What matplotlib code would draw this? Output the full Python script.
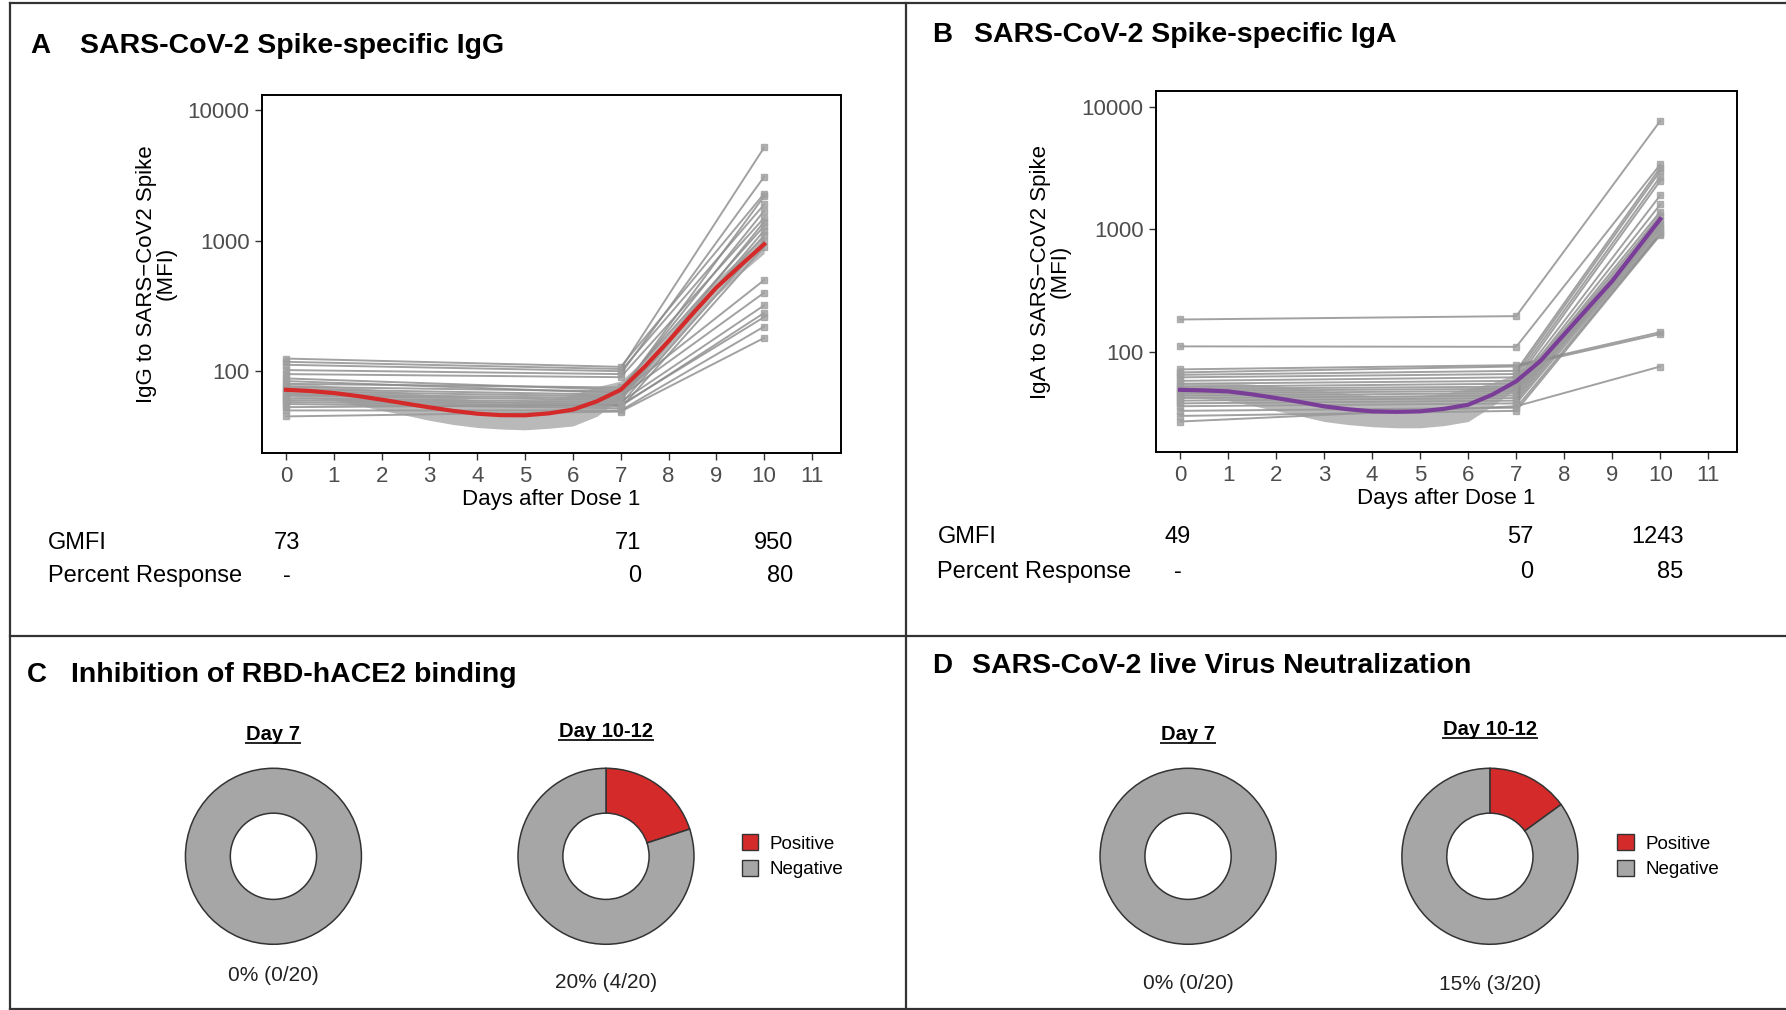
import matplotlib
matplotlib.use("Agg")
import matplotlib.pyplot as plt
from matplotlib.lines import Line2D
from matplotlib.patches import Patch
from matplotlib.ticker import NullLocator

plt.rcParams['font.family'] = ['Liberation Sans', 'DejaVu Sans']

# --- données ---
days = [0, 7, 10]

igg_d0 = [125, 118, 112, 102, 95, 88, 84, 80, 76, 73, 70, 67, 65, 62, 60, 58, 56, 53, 50, 45]
igg_d7 = [108, 104, 100, 95, 90, 72, 68, 75, 70, 66, 64, 62, 60, 58, 56, 54, 52, 55, 50, 49]
igg_d10 = [2300, 5200, 1900, 3100, 1500, 1700, 500, 1300, 2200, 1100, 400, 1400, 1200, 320, 1000, 280, 900, 260, 220, 180]

iga_d0 = [184, 111, 72, 68, 65, 62, 58, 55, 52, 50, 48, 46, 44, 42, 40, 38, 36, 33, 30, 27]
iga_d7 = [196, 110, 78, 76, 70, 66, 62, 58, 55, 52, 50, 48, 46, 44, 42, 40, 38, 35, 33, 36]
iga_d10 = [7700, 3400, 145, 140, 3200, 3000, 2700, 2500, 1900, 1600, 1400, 1300, 1200, 1100, 1050, 1000, 950, 920, 900, 76]

smooth_days = [0, 0.5, 1, 1.5, 2, 2.5, 3, 3.5, 4, 4.5, 5, 5.5, 6, 6.5, 7, 7.5, 8, 8.5, 9, 9.5, 10]
igg_smooth = [72, 70.5, 68, 64.5, 60.5, 56.5, 52.8, 49.6, 47.2, 46, 45.9, 47.5, 50.7, 58.7, 72,
              108, 170, 275, 438, 645, 942]
igg_lo = [64, 62, 60, 55, 50, 46, 42, 39, 37, 36, 35.5, 36.5, 38, 45, 62,
          92, 148, 240, 380, 560, 800]
igg_hi = [82, 80, 77, 75, 72, 69, 66, 63, 60, 59, 59, 61, 66, 76, 84,
          124, 195, 315, 505, 745, 1110]
iga_smooth = [49, 48.5, 47.6, 45, 42, 39, 35.9, 34, 32.7, 32.4, 32.7, 34.3, 37, 44.7, 57.5,
              84, 139, 230, 379, 680, 1216]
iga_lo = [43, 41.5, 40, 36.5, 33, 30, 27, 25.5, 24.5, 24, 24, 25, 27, 36, 50,
          73, 120, 200, 330, 590, 1050]
iga_hi = [56, 56, 56, 54.5, 53, 50.5, 48, 46, 44, 44, 44, 46, 50, 56, 66,
          97, 160, 265, 435, 785, 1410]

gmfi_igg = ['73', '71', '950']
resp_igg = ['-', '0', '80']
gmfi_iga = ['49', '57', '1243']
resp_iga = ['-', '0', '85']

n_total = 20
ace2_pos = [0, 4]     # Day 7, Day 10-12
neut_pos = [0, 3]
pie_titles = ['Day 7', 'Day 10-12']

RED = '#d42a2a'
PURPLE = '#7a3e98'
GREY = '#a6a6a6'

fig = plt.figure(figsize=(17.86, 10.10), dpi=100)

# --- cadres des panneaux ---
for xs, ys in [([0.0056, 0.0056], [0, 0.997]), ([0.5073, 0.5073], [0, 0.997]),
               ([0.0056, 1.0], [0.997, 0.997]), ([0.0056, 1.0], [0.3703, 0.3703]),
               ([0.0056, 1.0], [0.001, 0.001])]:
    fig.add_artist(Line2D(xs, ys, color='#333333', lw=1.6))

# --- titres des panneaux ---
titles = [('A', 0.0172, 0.0446, 0.9549, 'SARS-CoV-2 Spike-specific IgG'),
          ('B', 0.5217, 0.5453, 0.9650, 'SARS-CoV-2 Spike-specific IgA'),
          ('C', 0.0153, 0.0395, 0.3315, 'Inhibition of RBD-hACE2 binding'),
          ('D', 0.5217, 0.5440, 0.3405, 'SARS-CoV-2 live Virus Neutralization')]
for letter, xl, xt, y, txt in titles:
    fig.text(xl, y, letter, fontsize=20, fontweight='bold', va='center')
    fig.text(xt, y, txt, fontsize=20.5, fontweight='bold', va='center')


def spaghetti(rect, d0, d7, d10, smooth, lo, hi, color, ylabel, ylim):
    ax = fig.add_axes(rect)
    for a, b, c in zip(d0, d7, d10):
        ax.plot(days, [a, b, c], color='#8a8a8a', lw=1.4, alpha=0.8,
                marker='s', ms=4, mec='#a0a0a0', mfc='#a0a0a0', zorder=2)
    ax.fill_between(smooth_days, lo, hi, color='#9c9c9c', alpha=0.7, lw=0, zorder=3)
    ax.plot(smooth_days, smooth, color=color, lw=3, zorder=4)
    ax.set_yscale('log')
    ax.set_ylim(*ylim)
    ax.set_xlim(-0.5, 11.6)
    ax.set_xticks(range(12))
    ax.set_yticks([100, 1000, 10000])
    ax.set_yticklabels(['100', '1000', '10000'])
    ax.yaxis.set_minor_locator(NullLocator())
    ax.tick_params(labelsize=16, labelcolor='#4d4d4d', length=5, width=1, color='#333333', pad=4)
    for s in ax.spines.values():
        s.set_linewidth(1.4)
    ax.set_xlabel('Days after Dose 1', fontsize=16, labelpad=2)
    ax.set_ylabel(ylabel, fontsize=16, labelpad=8, linespacing=0.9)
    return ax


spaghetti([0.1467, 0.5513, 0.3240, 0.3551], igg_d0, igg_d7, igg_d10,
          igg_smooth, igg_lo, igg_hi, RED,
          'IgG to SARS\u2212CoV2 Spike\n(MFI)', (23.5, 13250))
spaghetti([0.6473, 0.5524, 0.3253, 0.3574], iga_d0, iga_d7, iga_d10,
          iga_smooth, iga_lo, iga_hi, PURPLE,
          'IgA to SARS\u2212CoV2 Spike\n(MFI)', (15.2, 13500))

# --- tableaux GMFI / Percent Response ---
def table(x_lab, x_cols, y_rows, gmfi, resp):
    fig.text(x_lab, y_rows[0], 'GMFI', fontsize=17, va='center')
    fig.text(x_lab, y_rows[1], 'Percent Response', fontsize=17, va='center')
    for row, vals in zip(y_rows, [gmfi, resp]):
        fig.text(x_cols[0], row, vals[0], fontsize=17, va='center', ha='center')
        fig.text(x_cols[1], row, vals[1], fontsize=17, va='center', ha='right')
        fig.text(x_cols[2], row, vals[2], fontsize=17, va='center', ha='right')


table(0.0268, [0.1605, 0.3590, 0.4439], [0.4622, 0.4295], gmfi_igg, resp_igg)
table(0.5249, [0.6595, 0.8584, 0.9426], [0.4679, 0.4341], gmfi_iga, resp_iga)

# --- anneaux ---
R_PX = 88
L = 1.04
W, H = 1786, 1010


def donut(cx, cy, pos, title, ty, ly):
    half = R_PX * L
    ax = fig.add_axes([cx - half / W, cy - half / H, 2 * half / W, 2 * half / H])
    vals = [pos, n_total - pos]
    cols = [RED, GREY]
    keep = [(v, c) for v, c in zip(vals, cols) if v > 0]
    ax.pie([v for v, _ in keep], colors=[c for _, c in keep], startangle=90,
           counterclock=False,
           wedgeprops=dict(width=0.51, edgecolor='#333333', linewidth=1.1))
    ax.set_xlim(-L, L)
    ax.set_ylim(-L, L)
    t = fig.text(cx, ty, title, fontsize=14.5, fontweight='bold', ha='center', va='center')
    pct = round(100 * pos / n_total)
    fig.text(cx, ly, f'{pct}% ({pos}/{n_total})', fontsize=15, ha='center', va='center',
             color='#222222')
    return t


underlined = []
underlined.append(donut(0.1531, 0.1522, ace2_pos[0], pie_titles[0], 0.2728, 0.0338))
underlined.append(donut(0.3393, 0.1522, ace2_pos[1], pie_titles[1], 0.2762, 0.0271))
underlined.append(donut(0.6652, 0.1522, neut_pos[0], pie_titles[0], 0.2728, 0.0259))
underlined.append(donut(0.8342, 0.1522, neut_pos[1], pie_titles[1], 0.2773, 0.0248))

handles = [Patch(facecolor=RED, edgecolor='#333333', label='Positive'),
           Patch(facecolor=GREY, edgecolor='#333333', label='Negative')]
for x0 in [0.4152, 0.9056]:
    fig.legend(handles=handles, loc='center left', bbox_to_anchor=(x0, 0.1522),
               frameon=False, fontsize=13.5, handlelength=0.9, handleheight=0.9,
               handletextpad=0.6, labelspacing=0.4, borderaxespad=0, borderpad=0)

# soulignement des titres "Day ..."
fig.canvas.draw()
inv = fig.transFigure.inverted()
for t in underlined:
    bb = t.get_window_extent()
    (x0, y0), (x1, _) = inv.transform([(bb.x0, bb.y0 + 1), (bb.x1, bb.y0)])
    fig.add_artist(Line2D([x0, x1], [y0, y0], color='#222222', lw=1.4))

fig.savefig('out.png', dpi=100)
